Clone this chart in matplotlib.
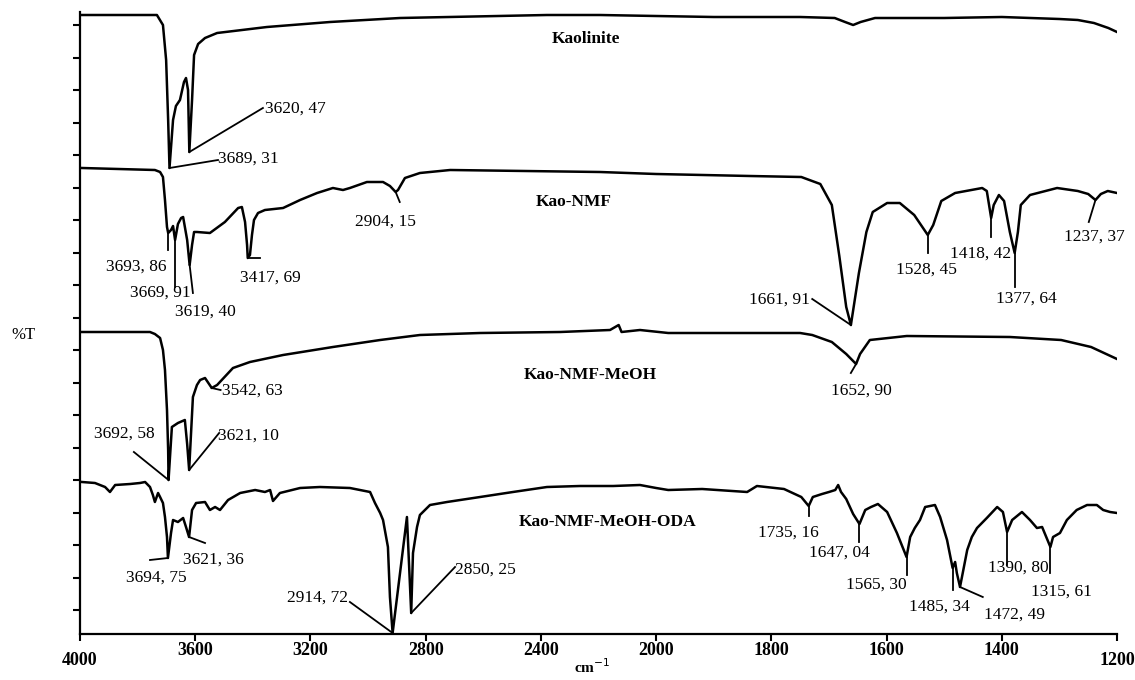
import matplotlib
matplotlib.use("Agg")
import matplotlib.pyplot as plt
import numpy as np

plt.rcParams['font.family'] = ['Liberation Serif', 'DejaVu Serif']

# Spectra: (wavenumber cm-1, offset %T)
kaolinite = [(3993, 619), (3733, 619), (3712, 609), (3701, 574), (3694, 514), (3689.31, 466),
             (3677, 514), (3667, 528), (3653, 534), (3639, 552), (3632, 556), (3625, 544),
             (3620.47, 482), (3611, 534), (3604, 579), (3590, 590), (3566, 596), (3524, 601),
             (3351, 607), (3132, 612), (2889, 616), (2379, 619), (2195, 619), (2000, 618),
             (1900, 617), (1750, 617), (1690, 616), (1672, 612), (1658, 609), (1645, 612),
             (1620, 616), (1500, 616), (1400, 617), (1300, 615), (1268, 614), (1240, 611),
             (1215, 606), (1200, 602)]

kao_nmf = [(3993, 466), (3740, 464), (3722, 462), (3712, 457), (3705, 434), (3698, 407),
           (3693.86, 401), (3684, 404), (3677, 408), (3669.91, 394), (3660, 410), (3649, 416),
           (3642, 417), (3628, 394), (3619.40, 369), (3611, 389), (3604, 402), (3594, 402),
           (3549, 401), (3497, 412), (3451, 426), (3438, 427), (3427, 412), (3420, 389),
           (3417.69, 376), (3410, 379), (3403, 399), (3396, 414), (3382, 421), (3358, 424),
           (3295, 426), (3236, 434), (3177, 441), (3122, 446), (3087, 444), (3063, 446),
           (3004, 452), (2948, 452), (2924, 448), (2904.15, 442), (2896, 444), (2872, 456),
           (2820, 461), (2715, 464), (2195, 462), (2000, 460), (1837, 458), (1748, 457),
           (1715, 450), (1695, 429), (1682, 378), (1670, 327), (1661.91, 309), (1648, 361),
           (1635, 402), (1624, 422), (1599, 431), (1577, 431), (1552, 419), (1528.45, 399),
           (1519, 409), (1505, 433), (1481, 441), (1434, 446), (1426, 443), (1418.42, 416),
           (1414, 429), (1405, 439), (1396, 433), (1386, 402), (1377.64, 381), (1372, 402),
           (1367, 429), (1351, 439), (1304, 446), (1268, 443), (1250, 440), (1237.37, 434),
           (1228, 440), (1216, 443), (1200, 441)]

kao_nmf_meoh = [(3993, 302), (3757, 302), (3740, 300), (3722, 296), (3712, 284), (3705, 264),
                (3698, 224), (3694, 184), (3692.58, 154), (3681, 207), (3660, 211), (3636, 214),
                (3628, 190), (3621.10, 164), (3608, 237), (3594, 249), (3583, 254), (3566, 256),
                (3542.63, 246), (3524, 249), (3469, 266), (3410, 272), (3295, 279), (3122, 287),
                (2958, 294), (2820, 299), (2611, 301), (2333, 302), (2160, 304), (2130, 309),
                (2120, 302), (2056, 304), (1979, 301), (1750, 301), (1729, 299), (1695, 292),
                (1670, 280), (1652.90, 270), (1646, 280), (1629, 294), (1565, 298), (1386, 297),
                (1297, 294), (1245, 287), (1200, 275)]

kao_nmf_meoh_oda = [(3993, 152), (3948, 151), (3913, 147), (3896, 142), (3878, 149), (3826, 150),
                    (3792, 151), (3774, 152), (3757, 147), (3747, 139), (3740, 132), (3729, 141),
                    (3722, 137), (3712, 131), (3705, 117), (3698, 97), (3694.75, 76), (3684, 101),
                    (3677, 114), (3660, 112), (3642, 116), (3632, 107), (3621.36, 97), (3611, 124),
                    (3597, 131), (3566, 132), (3549, 124), (3531, 127), (3514, 124), (3486, 134),
                    (3444, 141), (3392, 144), (3358, 142), (3340, 144), (3330, 133), (3306, 141),
                    (3236, 146), (3167, 147), (3063, 146), (2993, 142), (2976, 131), (2958, 121),
                    (2948, 114), (2931, 87), (2924, 37), (2914.72, 1), (2865, 117), (2850.25, 21),
                    (2844, 81), (2830, 107), (2820, 119), (2785, 129), (2726, 132), (2611, 137),
                    (2497, 142), (2379, 147), (2264, 148), (2149, 148), (2056, 149), (2000, 146),
                    (1979, 144), (1920, 145), (1842, 142), (1825, 148), (1778, 145), (1748, 137),
                    (1735.16, 128), (1728, 137), (1712, 140), (1700, 142), (1689, 144), (1684, 149),
                    (1679, 142), (1670, 135), (1658, 120), (1647.04, 110), (1637, 124), (1627, 127),
                    (1615, 130), (1599, 122), (1582, 101), (1565.30, 77), (1559, 97), (1551, 106),
                    (1542, 114), (1533, 127), (1516, 129), (1507, 117), (1495, 94), (1485.34, 66),
                    (1481, 72), (1478, 61), (1472.49, 47), (1460, 84), (1452, 97), (1443, 106),
                    (1426, 116), (1408, 127), (1398, 122), (1390.80, 102), (1382, 114), (1365, 122),
                    (1351, 114), (1339, 106), (1330, 107), (1315.61, 87), (1311, 97), (1299, 101),
                    (1287, 114), (1270, 124), (1252, 129), (1235, 129), (1224, 124), (1212, 122),
                    (1200, 121)]

spectra = [kaolinite, kao_nmf, kao_nmf_meoh, kao_nmf_meoh_oda]
names = ["Kaolinite", "Kao-NMF", "Kao-NMF-MeOH", "Kao-NMF-MeOH-ODA"]

xticks = [4000, 3600, 3200, 2800, 2400, 2000, 1800, 1600, 1400, 1200]

# peak labels: (peak, peak %T, line end, text anchor, alignment)
peaks = [
    (3620.47, 482, (3365, 526), (3358, 525), 'left'),
    (3689.31, 466, (3521, 474), (3521, 475), 'left'),
    (3693.86, 401, (3693.86, 384), (3804, 367), 'center'),
    (3669.91, 394, (3669.91, 347), (3722, 341), 'center'),
    (3619.40, 369, (3608, 341), (3566, 322), 'center'),
    (3417.69, 376, (3375, 376), (3340, 356), 'center'),
    (2904.15, 442, (2890, 432), (2938, 412), 'center'),
    (1661.91, 309, (1729, 335), (1733, 334), 'right'),
    (1528.45, 399, (1528.45, 381), (1531, 364), 'center'),
    (1418.42, 416, (1418.42, 397), (1436, 380), 'center'),
    (1377.64, 381, (1377.64, 347), (1358, 335), 'center'),
    (1237.37, 434, (1249, 412), (1240, 397), 'center'),
    (3692.58, 154, (3813, 182), (3846, 200), 'center'),
    (3621.10, 164, (3517, 201), (3521, 198), 'left'),
    (3542.63, 246, (3512, 244), (3507, 243), 'left'),
    (1652.90, 270, (1662, 261), (1644, 243), 'center'),
    (3694.75, 76, (3757, 74), (3736, 56), 'center'),
    (3621.36, 97, (3566, 91), (3538, 74), 'center'),
    (2914.72, 1, (3063, 32), (3177, 36), 'center'),
    (2850.25, 21, (2698, 67), (2698, 64), 'left'),
    (1735.16, 128, (1735.16, 118), (1771, 101), 'center'),
    (1647.04, 110, (1647.04, 92), (1681, 81), 'center'),
    (1565.30, 77, (1565.30, 59), (1617, 49), 'center'),
    (1485.34, 66, (1485.34, 44), (1509, 27), 'center'),
    (1472.49, 47, (1433, 37), (1378, 19), 'center'),
    (1390.80, 102, (1390.80, 69), (1372, 66), 'center'),
    (1315.61, 87, (1315.61, 61), (1297, 42), 'center'),
]
name_pos = [(2243, 595), (2285, 432), (2229, 259), (2170, 112)]


def forward(w):
    w = np.asarray(w, dtype=float)
    return np.where(w <= 2000, 2 * w, w + 2000)


def inverse(u):
    u = np.asarray(u, dtype=float)
    return np.where(u <= 4000, u / 2, u - 2000)


fig = plt.figure(figsize=(11.35, 6.8), dpi=100)
ax = fig.add_axes([80 / 1135, 46 / 680, 1037 / 1135, 622 / 680])
ax.set_xscale('function', functions=(forward, inverse))

for pts in spectra:
    w = [p[0] for p in pts]
    t = [p[1] for p in pts]
    ax.plot(w, t, color='black', linewidth=1.8, solid_joinstyle='round')

for pk, pt, (lx, ly), (tx, ty), ha in peaks:
    ax.plot([pk, lx], [pt, ly], color='black', linewidth=1.3)
    label = f"{pk:.2f}".replace('.', ', ')
    ax.text(tx, ty, label, ha=ha, va='center', fontsize=12.5)

for name, (nx, ny) in zip(names, name_pos):
    ax.text(nx, ny, name, ha='center', va='center', fontsize=12.5, fontweight='bold')

ax.set_xlim(4000, 1200)
ax.set_ylim(0, 622)
ax.set_xticks(xticks)
ax.set_xticklabels([str(v) for v in xticks], fontsize=13, fontweight='bold')
ax.set_yticks(np.arange(24, 622, 32.5))
ax.set_yticklabels([])
ax.tick_params(axis='both', direction='out', length=5, width=1.5, pad=1)
ax.xaxis.set_minor_locator(matplotlib.ticker.NullLocator())
for s in ['top', 'right']:
    ax.spines[s].set_visible(False)
for s in ['left', 'bottom']:
    ax.spines[s].set_linewidth(1.6)

ticks = ax.xaxis.get_major_ticks()
ticks[0].set_pad(8)
ticks[-1].set_pad(8)

ax.set_xlabel("cm$^{-1}$", fontsize=11, fontweight='bold')
ax.xaxis.set_label_coords(0.494, -0.053)
ax.xaxis.label.set_va('center')
ax.set_ylabel("%T", fontsize=12, rotation=0, va='center', ha='center')
ax.yaxis.set_label_coords(-0.055, 0.481)

fig.savefig("out.png", dpi=100)
